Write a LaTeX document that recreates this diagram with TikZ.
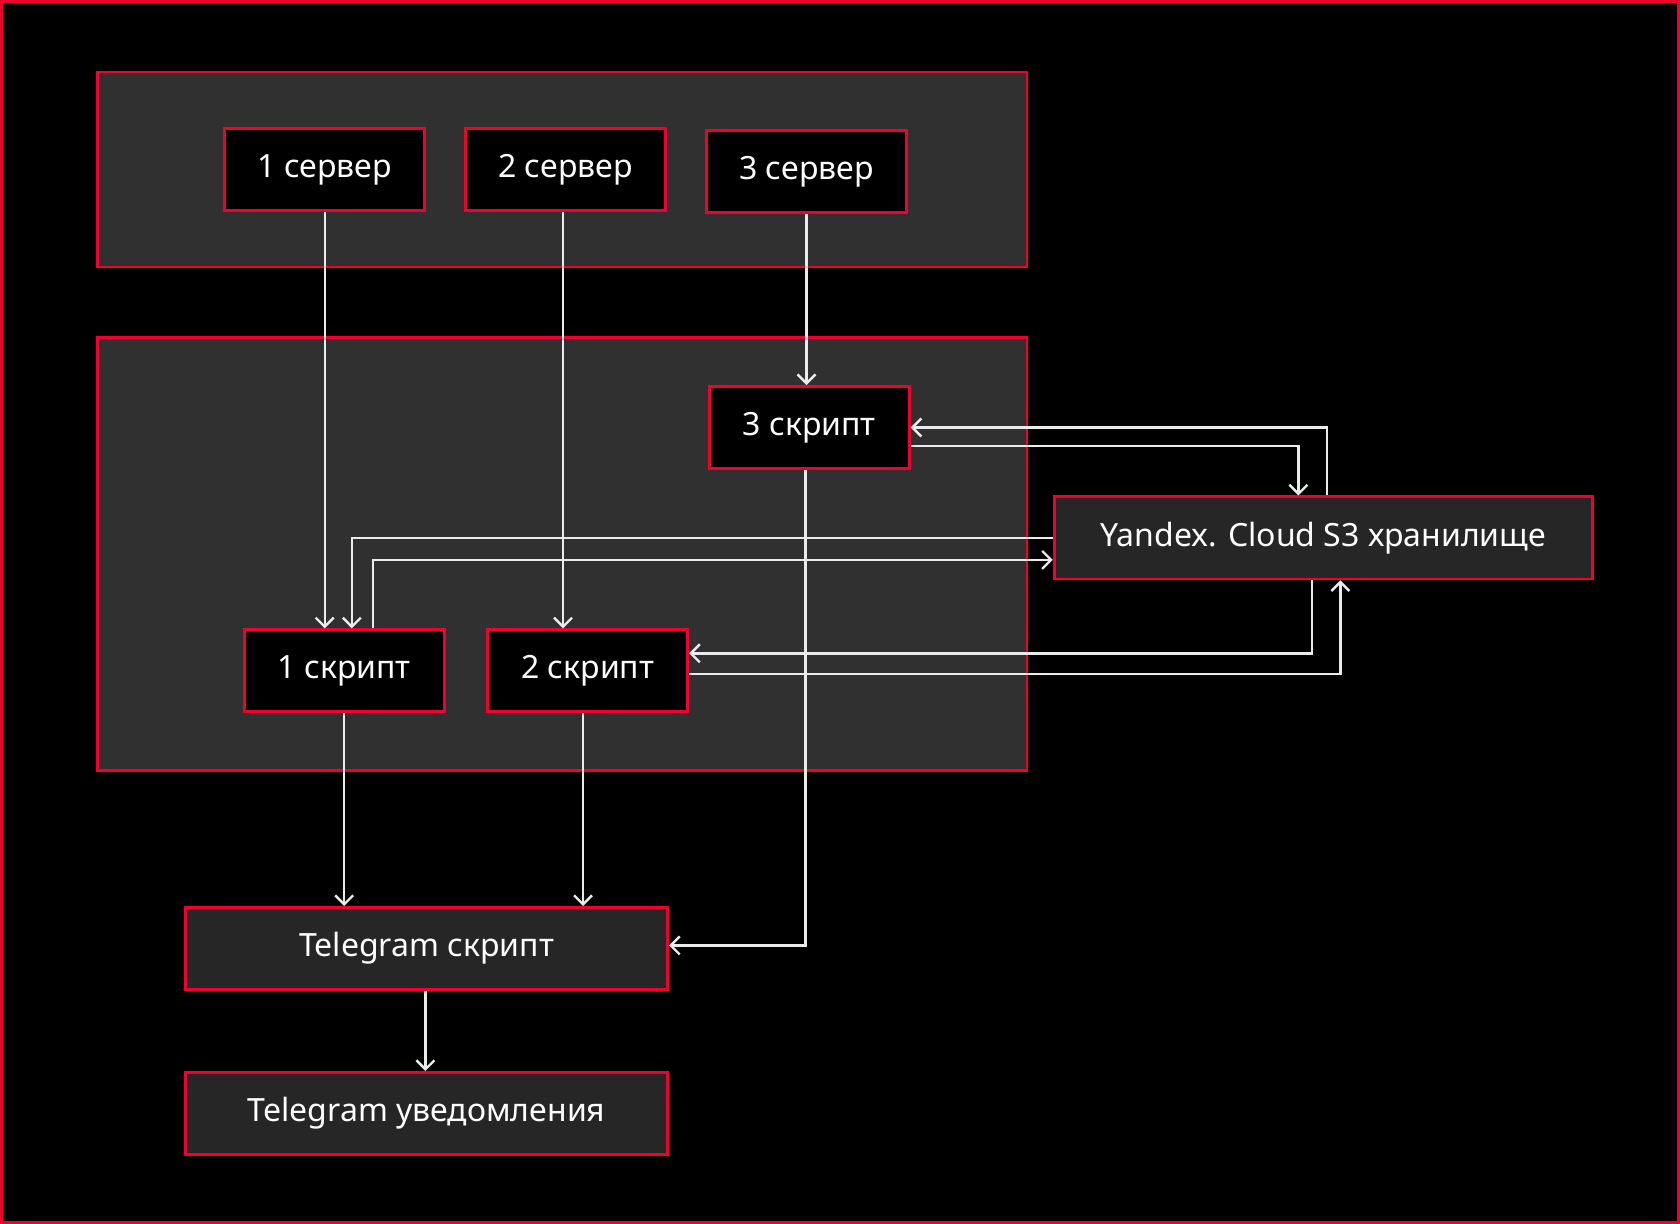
\documentclass[tikz,border=0pt]{standalone}
\usepackage{fontspec}
\setmainfont{Noto Sans}
\usetikzlibrary{calc, positioning, arrows.meta}
\definecolor{frame red}{RGB}{240,0,46}
\definecolor{panel grey}{RGB}{48,48,48}
\definecolor{box grey}{RGB}{38,38,38}
\tikzstyle{every node}=[font=\fontsize{16}{19}\selectfont, text=white]
\tikzstyle{box}=[rectangle, draw=frame red, line width=1.4pt, minimum height=41pt, inner sep=0pt]
\tikzstyle{server box}=[box, fill=black, minimum width=100pt]
\tikzstyle{wide box}=[box, fill=box grey]
\tikzstyle{panel}=[draw=frame red, line width=1.4pt, fill=panel grey]
\tikzstyle{link}=[->, draw=white!92!black, line width=1.2pt]
\begin{document}
\begin{tikzpicture}[x=0.5pt, y=-0.5pt, >={Straight Barb[length=4.5pt,width=9pt]}]
	\fill[black] (0,0) rectangle (1680,1224);
	\draw[frame red, line width=1.5pt] (1.5,1.5) rectangle (1678.5,1222.5);
	% panels
	\draw[panel] (97.5,72) rectangle (1027,267);
	\draw[panel] (97.5,337.7) rectangle (1027,770.7);
	% servers and scripts
	\node[server box] (S-1) at (324.7,169.5) {1 сервер};
	\node[server box] (S-2) at (565.5,169.5) {2 сервер};
	\node[server box] (S-3) at (806.5,171.7) {3 сервер};
	\node[server box] (K-3) at (809.3,427.5) {3 скрипт};
	\node[server box] (K-1) at (344.2,670.8) {1 скрипт};
	\node[server box] (K-2) at (587.7,670.8) {2 скрипт};
	\node[wide box, minimum width=269pt] (Y) at (1323.2,537.9) {Yandex. Cloud S3 хранилище};
	\node[wide box, minimum width=241pt] (T) at (426.6,948.4) {Telegram скрипт};
	\node[wide box, minimum width=241pt] (N) at (426.6,1113.4) {Telegram уведомления};
	% links
	\draw[link] (S-1.south) -- (S-1.south |- K-1.north);
	\draw[link] ([xshift=-1.25pt]S-2.south) -- ([xshift=-1.25pt]S-2.south |- K-2.north);
	\draw[link] (S-3.south) -- (S-3.south |- K-3.north);
	\draw[link] ([xshift=-2pt]K-3.south) |- ([yshift=1.5pt]T.east);
	\draw[link] ([xshift=2pt]Y.north) |- (K-3.east);
	\draw[link] ([yshift=-9.25pt]K-3.east) -| ([xshift=-12.4pt]Y.north);
	\draw[link] (Y.west) -| ([xshift=3.8pt]K-1.north);
	\draw[link] ([xshift=14.3pt]K-1.north) |- ([yshift=-11pt]Y.west);
	\draw[link] ([xshift=-5.5pt]Y.south) |- ([yshift=8.75pt]K-2.east);
	\draw[link] ([yshift=-1.6pt]K-2.east) -| ([xshift=8.6pt]Y.south);
	\draw[link] (K-1.south) -- (K-1.south |- T.north);
	\draw[link] ([xshift=-2.35pt]K-2.south) -- ([xshift=-2.35pt]K-2.south |- T.north);
	\draw[link] ([xshift=-0.6pt]T.south) -- ([xshift=-0.6pt]T.south |- N.north);
\end{tikzpicture}
\end{document}
